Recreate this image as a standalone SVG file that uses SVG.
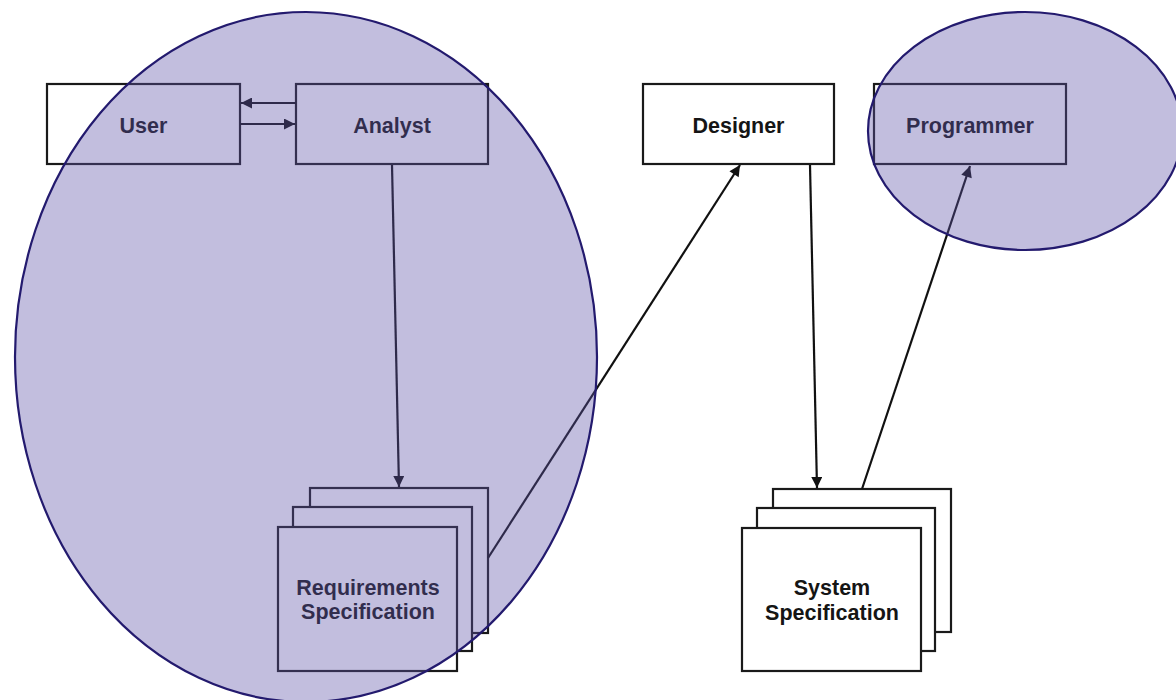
<svg xmlns="http://www.w3.org/2000/svg" width="1176" height="700" viewBox="0 0 1176 700">
  <defs>
    <marker id="arrow" viewBox="0 0 10 10" refX="10" refY="5" markerWidth="14" markerHeight="11" markerUnits="userSpaceOnUse" orient="auto">
      <path d="M0,0 L10,5 L0,10 z" fill="#111"/>
    </marker>
    <style>
      .box { fill: #fff; stroke: #1a1a1a; stroke-width: 2.2; }
      .label { font-family: "Liberation Sans", Arial, sans-serif; font-weight: bold; font-size: 21.5px; fill: #151515; text-anchor: middle; }
      .conn { stroke: #111; stroke-width: 2.2; fill: none; marker-end: url(#arrow); }
      .zone { fill: #5e53a8; fill-opacity: 0.38; stroke: #231a6e; stroke-width: 2.2; }
    </style>
  </defs>
  <rect width="1176" height="700" fill="#fff"/>

  <g id="user">
    <rect class="box" x="47" y="84" width="193" height="80"/>
    <text class="label" x="143.5" y="133">User</text>
  </g>
  <g id="analyst">
    <rect class="box" x="296" y="84" width="192" height="80"/>
    <text class="label" x="392" y="133">Analyst</text>
  </g>
  <g id="designer">
    <rect class="box" x="643" y="84" width="191" height="80"/>
    <text class="label" x="738.5" y="133">Designer</text>
  </g>
  <g id="programmer">
    <rect class="box" x="874" y="84" width="192" height="80"/>
    <text class="label" x="970" y="133">Programmer</text>
  </g>
  <g id="requirements-spec">
    <rect class="box" x="310" y="488" width="178" height="145"/>
    <rect class="box" x="293" y="507" width="179" height="144"/>
    <rect class="box" x="278" y="527" width="179" height="144"/>
    <text class="label" x="368" y="595">Requirements</text>
    <text class="label" x="368" y="619">Specification</text>
  </g>
  <g id="system-spec">
    <rect class="box" x="773" y="489" width="178" height="143"/>
    <rect class="box" x="757" y="508" width="178" height="143"/>
    <rect class="box" x="742" y="528" width="179" height="143"/>
    <text class="label" x="832" y="595">System</text>
    <text class="label" x="832" y="620">Specification</text>
  </g>

  <g id="connectors">
    <line class="conn" x1="296" y1="103" x2="241" y2="103"/>
    <line class="conn" x1="240" y1="124" x2="295" y2="124"/>
    <line class="conn" x1="392" y1="165" x2="399" y2="487"/>
    <line class="conn" x1="488" y1="558" x2="740" y2="165"/>
    <line class="conn" x1="810" y1="165" x2="817" y2="488"/>
    <line class="conn" x1="862" y1="489" x2="970" y2="166"/>
  </g>

  <g id="zones">
    <ellipse class="zone" cx="306" cy="357" rx="291" ry="345"/>
    <ellipse class="zone" cx="1025" cy="131" rx="157" ry="119"/>
  </g>
</svg>
